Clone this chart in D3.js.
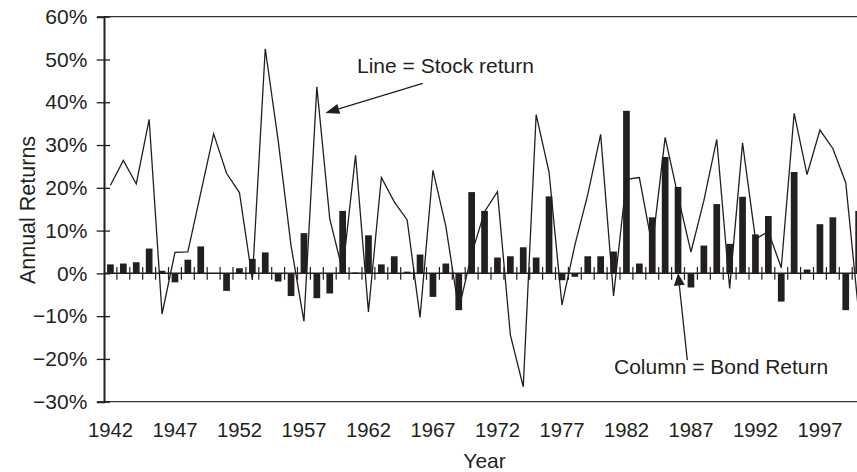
<!DOCTYPE html>
<html>
<head>
<meta charset="utf-8">
<script src="https://cdn.jsdelivr.net/npm/d3@7/dist/d3.min.js"></script>
<style>
  html, body { margin: 0; padding: 0; background: #fff; }
  svg { display: block; }
  text { font-family: "Liberation Sans", Arial, Helvetica, sans-serif; fill: #231f20; }
</style>
</head>
<body>
<svg id="chart" width="857" height="472"></svg>
<script>
const years = d3.range(1942, 2001);
const stockReturns = [
  20.6, 26.4, 20.9, 36.0, -9.5, 4.9, 5.0, 18.8, 32.6, 23.4,
  18.9, -1.5, 52.5, 31.1, 6.5, -11.2, 43.6, 12.8, 0.5, 27.6,
  -9.0, 22.4, 16.7, 12.5, -10.3, 24.1, 11.0, -8.5, 4.5, 14.4,
  19.1, -14.4, -26.5, 37.1, 23.7, -7.4, 6.6, 18.4, 32.5, -5.3,
  22.0, 22.4, 6.3, 31.8, 18.0, 5.0, 17.0, 31.3, -3.5, 30.5,
  8.0, 9.8, 1.3, 37.4, 23.1, 33.5, 29.2, 21.2, -9.1
];
const bondReturns = [
  2.1, 2.3, 2.6, 5.8, 0.6, -2.1, 3.2, 6.3, 0.1, -4.1,
  1.2, 3.4, 4.9, -1.9, -5.3, 9.4, -5.8, -4.7, 14.6, 0.2,
  8.9, 2.1, 4.0, 0.4, 4.4, -5.5, 2.3, -8.6, 19.0, 14.6,
  3.7, 4.0, 6.1, 3.7, 18.0, -1.6, -0.8, 4.0, 4.0, 5.1,
  38.0, 2.3, 13.1, 27.2, 20.2, -3.3, 6.5, 16.2, 6.9, 17.9,
  9.1, 13.4, -6.6, 23.7, 0.9, 11.5, 13.1, -8.6, 14.6
];
const yTicks = [60, 50, 40, 30, 20, 10, 0, -10, -20, -30];
const xLabelYears = [1942, 1947, 1952, 1957, 1962, 1967, 1972, 1977, 1982, 1987, 1992, 1997];
const stockLabel = "Line = Stock return";
const bondLabel = "Column = Bond Return";

const ink = "#231f20";
const svg = d3.select("#chart");
const plotLeft = 104, plotTop = 16.7, plotBottom = 401.7, plotRight = 857;
const step = 12.9;

const x = d3.scaleBand().domain(years)
  .range([plotLeft, plotLeft + years.length * step])
  .paddingInner(0.48).paddingOuter(0.24);
const y = d3.scaleLinear().domain([-30, 60]).range([plotBottom, plotTop]);
const cx = d => x(d) + x.bandwidth() / 2;

// frame lines (top and bottom)
svg.append("line").attr("x1", plotLeft).attr("x2", plotRight).attr("y1", y(60)).attr("y2", y(60))
  .attr("stroke", "#333").attr("stroke-width", 1.3);
svg.append("line").attr("x1", plotLeft).attr("x2", plotRight).attr("y1", y(-30)).attr("y2", y(-30))
  .attr("stroke", "#333").attr("stroke-width", 1.3);

// bars
svg.append("g").selectAll("rect").data(years).join("rect")
  .attr("x", d => x(d))
  .attr("width", x.bandwidth())
  .attr("y", (d, i) => y(Math.max(0, bondReturns[i])))
  .attr("height", (d, i) => Math.abs(y(bondReturns[i]) - y(0)))
  .attr("fill", ink);

// zero line with category ticks
svg.append("line").attr("x1", plotLeft).attr("x2", plotRight).attr("y1", y(0)).attr("y2", y(0))
  .attr("stroke", ink).attr("stroke-width", 1.5);
svg.append("g").selectAll("line").data(years.slice(1)).join("line")
  .attr("x1", d => cx(d) - step / 2).attr("x2", d => cx(d) - step / 2)
  .attr("y1", y(0) - 6.3).attr("y2", y(0) + 6.5)
  .attr("stroke", ink).attr("stroke-width", 1.2);

// stock line
const line = d3.line().x((d, i) => cx(years[i])).y(d => y(d));
svg.append("path").datum(stockReturns)
  .attr("d", line).attr("fill", "none").attr("stroke", ink)
  .attr("stroke-width", 1.3).attr("stroke-linejoin", "miter");

// y axis
const yAxis = d3.axisLeft(y).tickValues(yTicks).tickSize(7)
  .tickFormat(d => (d < 0 ? "\u2212" + Math.abs(d) : d) + "%");
const gy = svg.append("g").attr("transform", `translate(${plotLeft},0)`).call(yAxis);
gy.select(".domain").attr("stroke", ink).attr("stroke-width", 2);
gy.selectAll(".tick line").attr("stroke", ink).attr("stroke-width", 1.3).attr("x2", -7.3).attr("x1", 6);
gy.selectAll(".tick text").attr("x", -16.7).attr("font-size", 21).attr("fill", ink)
  .style("font-family", '"Liberation Sans", Arial, sans-serif');

// x labels
svg.append("g").selectAll("text").data(xLabelYears).join("text")
  .attr("x", d => cx(d)).attr("y", 437)
  .attr("text-anchor", "middle").attr("font-size", 20.3)
  .text(d => d);

// axis titles
svg.append("text").attr("x", (plotLeft + x.range()[1]) / 2).attr("y", 468)
  .attr("text-anchor", "middle").attr("font-size", 21).text("Year");
svg.append("text").attr("transform", "translate(35,210) rotate(-90)")
  .attr("text-anchor", "middle").attr("font-size", 21.5).text("Annual Returns");

// annotations
svg.append("text").attr("x", 357).attr("y", 73.3).attr("font-size", 21).text(stockLabel);
svg.append("text").attr("x", 614).attr("y", 374).attr("font-size", 21).text(bondLabel);

function arrow(x0, y0, x1, y1, len, half) {
  const a = Math.atan2(y1 - y0, x1 - x0);
  const bx = x1 - len * Math.cos(a), by = y1 - len * Math.sin(a);
  svg.append("line").attr("x1", x0).attr("y1", y0).attr("x2", bx).attr("y2", by)
    .attr("stroke", ink).attr("stroke-width", 1.3);
  const px = -Math.sin(a) * half, py = Math.cos(a) * half;
  svg.append("path")
    .attr("d", `M${x1},${y1}L${bx + px},${by + py}L${bx - px},${by - py}Z`)
    .attr("fill", ink);
}
arrow(422.7, 83.3, cx(1958) + 8.5, y(37.5), 14, 5);
arrow(687.3, 360, cx(1986), y(0), 12, 5.5);
</script>
</body>
</html>
